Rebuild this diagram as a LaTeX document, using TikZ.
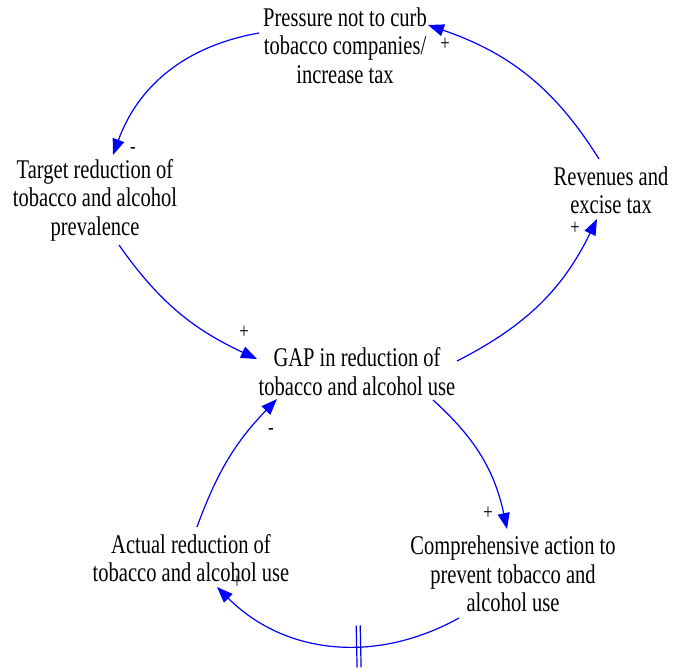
\documentclass[tikz,border=0pt]{standalone}
\usepackage{fontspec}
\setmainfont{Liberation Serif}[FakeStretch=0.76]
\usetikzlibrary{arrows.meta,decorations.markings}
\definecolor{linkblue}{RGB}{0,0,255}
\begin{document}
\begin{tikzpicture}[x=1pt,y=-1pt,
  var/.style={align=center, inner sep=0pt, font=\fontsize{27}{28.5}\selectfont},
  link/.style={draw=linkblue, line width=1.2pt, -{Triangle[length=16pt,width=12pt]}},
  pol/.style={inner sep=0pt, font=\fontsize{22}{22}\selectfont},
  delay/.style={postaction={decorate, decoration={markings,
      mark=at position #1 with {\draw[-, linkblue, line width=1.2pt]
        (-2pt,-21pt) -- (-2pt,21pt) (2pt,-21pt) -- (2pt,21pt);}}}}]
\useasboundingbox (0,0) rectangle (687,670);

% variables
\node[var] (pres) at (345,45.5) {Pressure not to curb\\tobacco companies/\\increase tax};
\node[var] (targ) at (95,200) {Target reduction of\\tobacco and alcohol\\prevalence};
\node[var] (rev)  at (611,190.5) {Revenues and\\excise tax};
\node[var] (gap)  at (357,371.5) {GAP in reduction of\\tobacco and alcohol use};
\node[var] (act)  at (191,558) {Actual reduction of\\tobacco and alcohol use};
\node[var] (comp) at (513,574) {Comprehensive action to\\prevent tobacco and\\alcohol use};

% causal links
\draw[link] ([shift={(-12,-31.5)}]rev.center) to[out=122,in=-19] ([shift={(83,-20.5)}]pres.center);
\draw[link] ([shift={(-86,-12.5)}]pres.center) to[out=190,in=70] ([shift={(18,-45)}]targ.center);
\draw[link] ([shift={(24,45)}]targ.center) to[out=-55,in=155] ([shift={(-100,-12.5)}]gap.center);
\draw[link] ([shift={(100,-10.5)}]gap.center) to[out=27,in=-116] ([shift={(-14,28.5)}]rev.center);
\draw[link] ([shift={(76,28.5)}]gap.center) to[out=-42,in=102] ([shift={(-6,-45)}]comp.center);
\draw[link, delay=0.4] ([shift={(-54,44)}]comp.center) to[out=209,in=-45] ([shift={(26,29)}]act.center);
\draw[link] ([shift={(6,-31)}]act.center) to[out=70,in=-134] ([shift={(-80,27.5)}]gap.center);

% polarities
\node[pol] (p1) at (445,44) {+};
\node[pol] (p2) at (133,150) {-};
\node[pol] (p3) at (244,332) {+};
\node[pol] (p4) at (575,228) {+};
\node[pol] (p5) at (488,513) {+};
\node[pol] (p6) at (237,582) {+};
\node[pol] (p7) at (271,431) {-};
\end{tikzpicture}
\end{document}
